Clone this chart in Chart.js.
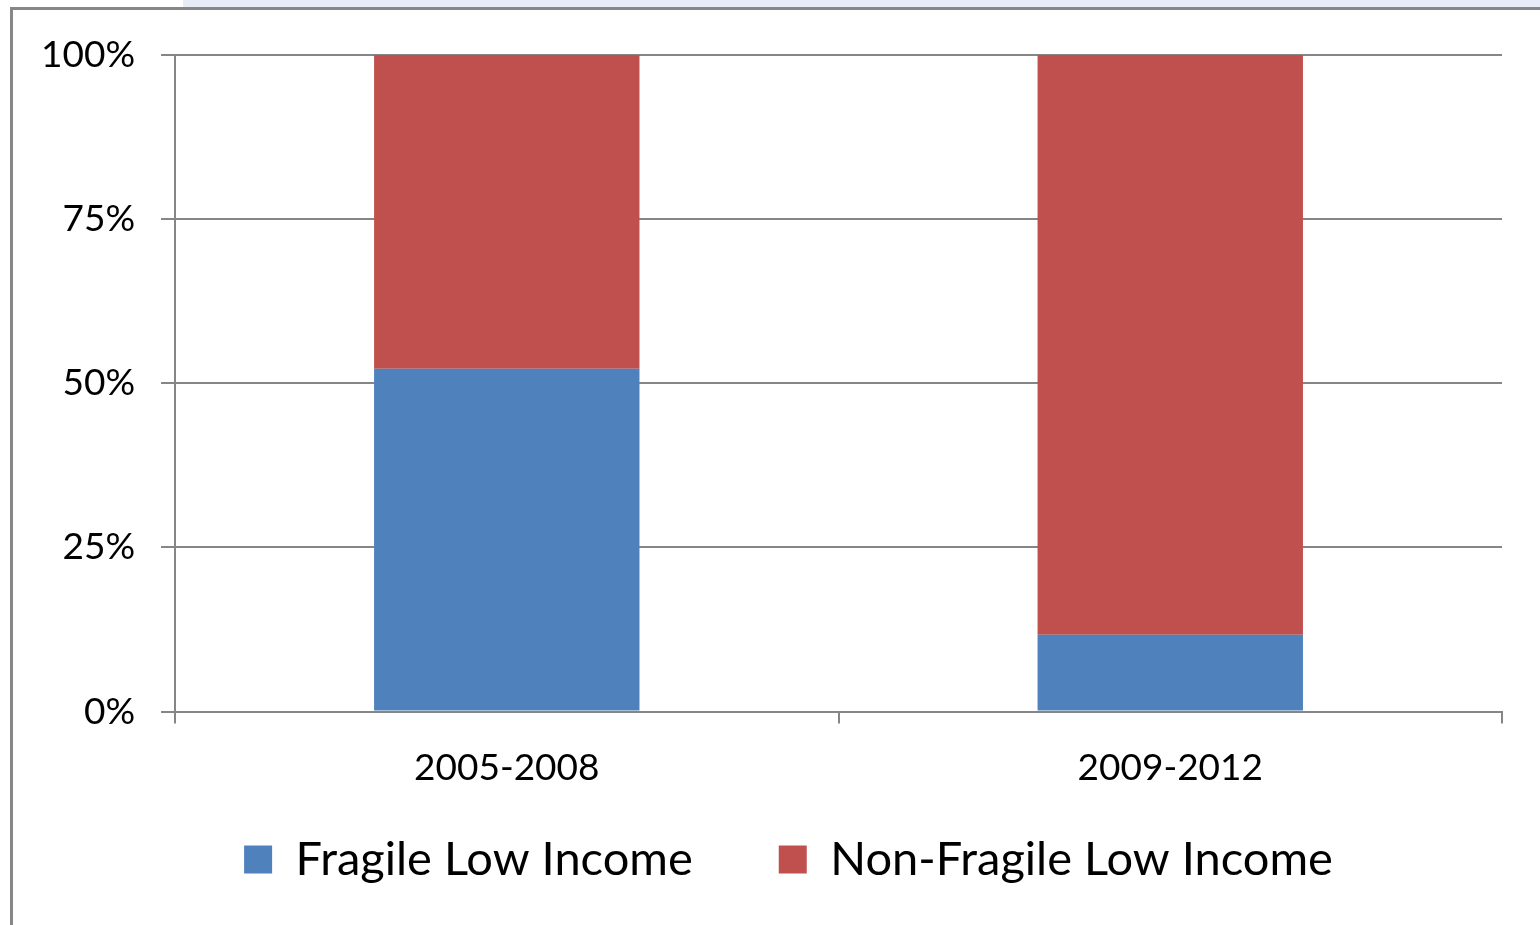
<!DOCTYPE html>
<html>
<head>
<meta charset="utf-8">
<script src="https://cdn.jsdelivr.net/npm/chart.js@4.4.0/dist/chart.umd.min.js"></script>
<style>
  html, body { margin: 0; padding: 0; background: #fff; }
  #wrap { position: relative; width: 1540px; height: 925px; overflow: hidden; }
  #band { position: absolute; left: 183px; top: 0; width: 1357px; height: 7px; background: #e6edf6; }
  #frame { position: absolute; left: 10px; top: 7px; width: 1540px; height: 930px;
           border-left: 3px solid #878787; border-top: 3px solid #878787; box-sizing: border-box; }
  canvas { position: absolute; left: 0; top: 0; }
</style>
</head>
<body>
<div id="wrap">
  <div id="band"></div>
  <div id="frame"></div>
  <canvas id="myChart" width="1540" height="925"></canvas>
</div>
<script>
// share of low income countries by period

var periods = ['2005-2008', '2009-2012'];
var fragile = [52.2, 11.7];
var nonFragile = [47.8, 88.3];
var yTicks = [0, 25, 50, 75, 100];

var fonte = "Lato, 'Open Sans', sans-serif";

// legend sits right of centre in the original, and its wide item
// spacing (padding) would push it too far down, so nudge it
var legendShift = {
    id: 'legendShift',
    afterLayout: function (chart) {
        chart.legend.left += 30;
        chart.legend.right += 30;
        chart.legend.top -= 62;
        chart.legend.height += 62;
    }
};

new Chart("myChart", {
    type: "bar",
    data: {
        labels: periods,
        datasets: [{
            label: 'Fragile Low Income',
            data: fragile,
            backgroundColor: "#4F81BD",
            barPercentage: 0.4,
            categoryPercentage: 1
        }, {
            label: 'Non-Fragile Low Income',
            data: nonFragile,
            backgroundColor: "#C0504D",
            barPercentage: 0.4,
            categoryPercentage: 1
        }]
    },
    options: {
        responsive: false,
        animation: false,
        layout: {
            padding: { left: 15, right: 38, top: 55, bottom: 33 }
        },
        plugins: {
            legend: {
                position: 'bottom',
                maxHeight: 80,
                labels: {
                    boxWidth: 28,
                    boxHeight: 28,
                    padding: 86,
                    color: '#000',
                    font: { family: fonte, size: 47 }
                }
            },
            tooltip: { enabled: false }
        },
        scales: {
            x: {
                stacked: true,
                grid: {
                    drawOnChartArea: false,
                    drawTicks: true,
                    tickLength: 12,
                    color: '#868686',
                    lineWidth: 2
                },
                border: { color: '#868686', width: 2 },
                ticks: {
                    color: '#000',
                    padding: 22,
                    font: { family: fonte, size: 37 }
                }
            },
            y: {
                stacked: true,
                min: 0,
                max: 100,
                afterBuildTicks: function (axis) {
                    axis.ticks = yTicks.map(function (v) { return { value: v }; });
                },
                grid: {
                    color: '#868686',
                    lineWidth: 2,
                    tickLength: 14
                },
                border: { color: '#868686', width: 2 },
                ticks: {
                    color: '#000',
                    padding: 26,
                    font: { family: fonte, size: 37 },
                    callback: function (v) { return v + '%'; }
                }
            }
        }
    },
    plugins: [legendShift]
});
</script>
</body>
</html>
